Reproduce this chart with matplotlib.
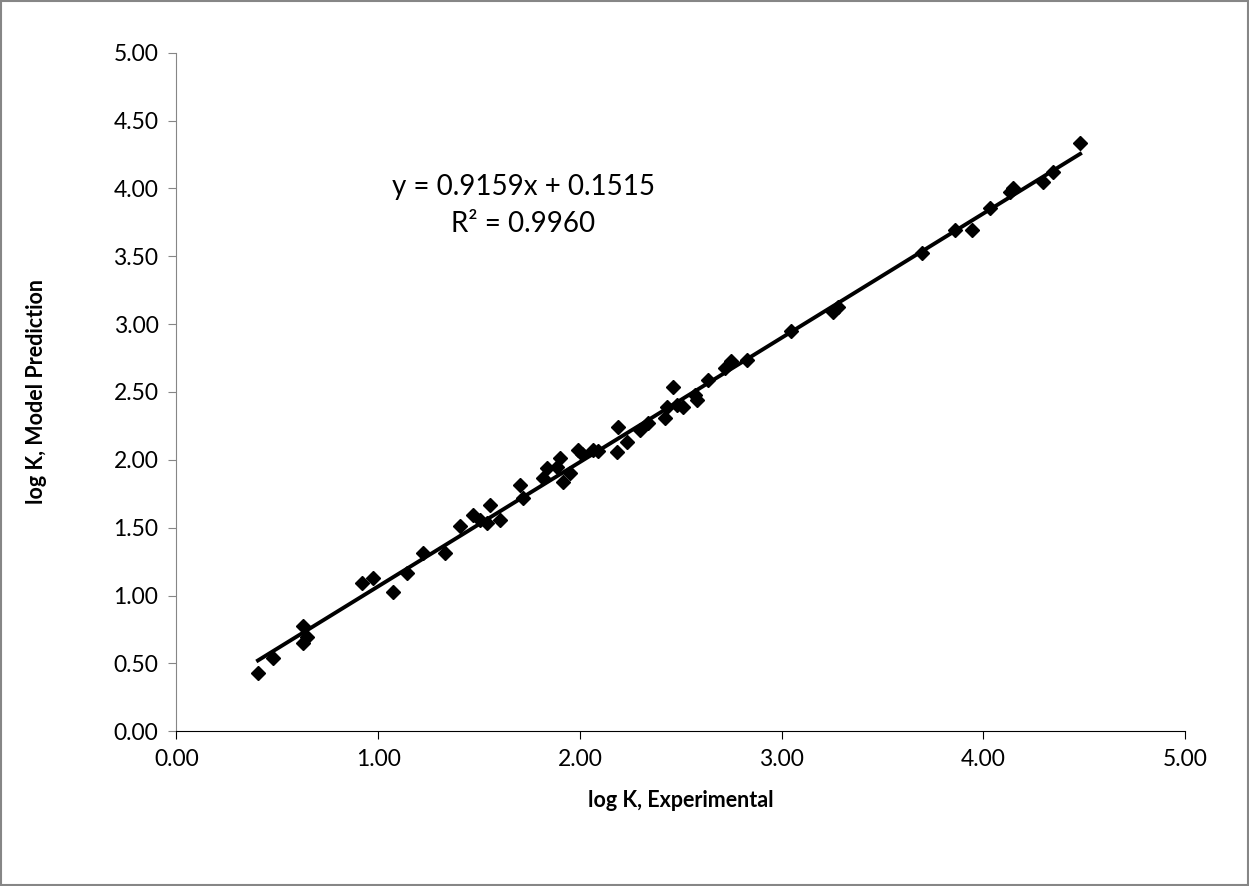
import numpy as np
import matplotlib
matplotlib.use('Agg')
import matplotlib.pyplot as plt
from matplotlib.patches import Rectangle

''' Data read off the chart '''
log_k_exp = [0.404, 0.479, 0.627, 0.627, 0.647, 0.920, 0.975, 1.074, 1.143,
             1.222, 1.331, 1.406, 1.470, 1.505, 1.554, 1.539, 1.604, 1.703,
             1.718, 1.817, 1.837, 1.887, 1.901, 1.916, 1.951, 1.991, 2.011,
             2.065, 2.090, 2.189, 2.184, 2.234, 2.298, 2.338, 2.422, 2.432,
             2.461, 2.481, 2.511, 2.571, 2.581, 2.635, 2.720, 2.750, 2.829,
             3.047, 3.254, 3.279, 3.696, 3.860, 3.944, 4.033, 4.133, 4.148,
             4.297, 4.346, 4.480]
log_k_model = [0.426, 0.536, 0.779, 0.647, 0.691, 1.089, 1.126, 1.023, 1.163,
               1.310, 1.310, 1.515, 1.591, 1.554, 1.665, 1.532, 1.554, 1.812,
               1.717, 1.863, 1.937, 1.945, 2.011, 1.834, 1.900, 2.070, 2.040,
               2.070, 2.063, 2.240, 2.055, 2.129, 2.218, 2.269, 2.306, 2.387,
               2.535, 2.402, 2.387, 2.476, 2.439, 2.587, 2.680, 2.725, 2.734,
               2.948, 3.086, 3.123, 3.523, 3.692, 3.692, 3.854, 3.973, 4.002,
               4.046, 4.120, 4.334]

slope = 0.9159
intercept = 0.1515
r_squared = 0.9960

ticks = [0, 1, 2, 3, 4, 5]
yticks = [0, 0.5, 1, 1.5, 2, 2.5, 3, 3.5, 4, 4.5, 5]

plt.rcParams['font.family'] = ['Lato', 'DejaVu Sans']

fig = plt.figure(figsize=(12.49, 8.86), dpi=100)
ax = fig.add_axes([0.1413, 0.1747, 0.8075, 0.7658])

''' Trendline over the data range '''
xs = np.array([min(log_k_exp), max(log_k_exp)])
ax.plot(xs, slope * xs + intercept, color='black', lw=2.8, zorder=2)

''' Points '''
ax.plot(log_k_exp, log_k_model, 'D', color='black', ms=7.5, zorder=3)

ax.text(1.72, 4.01, 'y = %.4fx + %.4f' % (slope, intercept), fontsize=20,
        ha='center', va='center')
ax.text(1.72, 3.74, 'R\u00b2 = %.4f' % r_squared, fontsize=20,
        ha='center', va='center')

''' Axes '''
ax.set_xlim(0, 5)
ax.set_ylim(0, 5)
ax.set_xticks(ticks)
ax.set_xticklabels(['%.2f' % t for t in ticks])
ax.set_yticks(yticks)
ax.set_yticklabels(['%.2f' % t for t in yticks])
ax.tick_params(labelsize=16.5, length=6, direction='out', pad=7)
ax.tick_params(axis='y', color='#868686')
ax.tick_params(axis='x', color='black')

for s in ['top', 'right']:
    ax.spines[s].set_visible(False)
ax.spines['left'].set_color('#868686')
ax.spines['bottom'].set_color('black')

ax.set_xlabel('log K, Experimental', fontsize=15.5, fontweight='bold', labelpad=14)
ax.set_ylabel('log K, Model Prediction', fontsize=15.5, fontweight='bold', labelpad=48)

''' Outer frame '''
fig.patches.append(Rectangle((0.001, 0.001), 0.998, 0.998, transform=fig.transFigure,
                             fill=False, edgecolor='#868686', lw=1.5))

fig.savefig('out.png', dpi=100)
